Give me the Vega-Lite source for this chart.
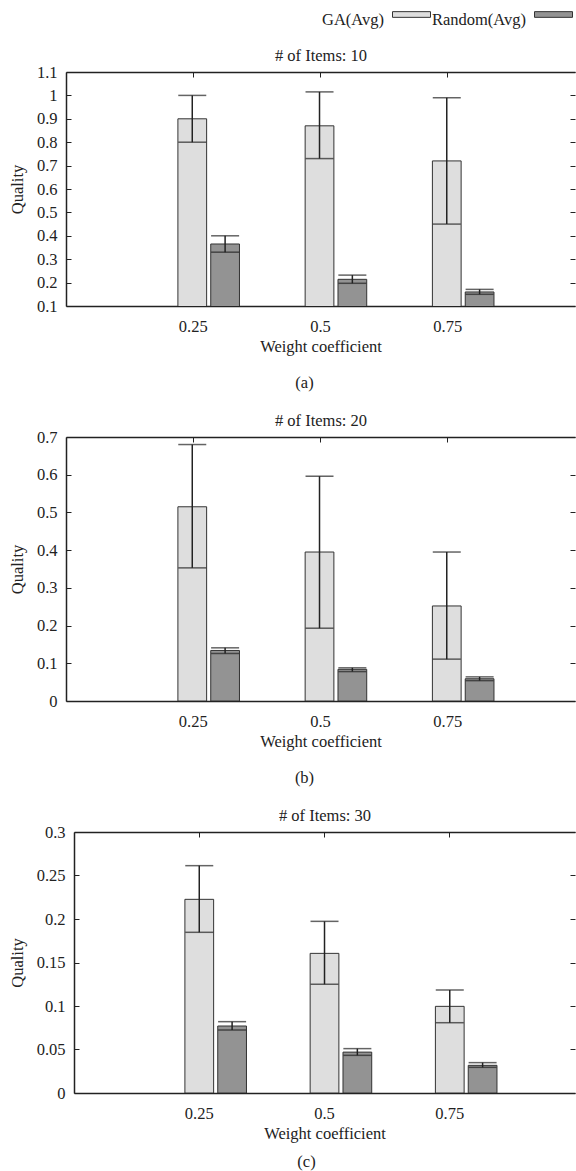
{
  "$schema": "https://vega.github.io/schema/vega-lite/v6.json",
  "padding": {"left": 9, "top": 0, "right": 0, "bottom": 0},
  "columns": 1,
  "align": "none",
  "spacing": 20,
  "datasets": {
    "p10": [
      {"weight": 0.25, "series": "GA(Avg)", "avg": 0.90, "lo": 0.80, "hi": 1.00},
      {"weight": 0.25, "series": "Random(Avg)", "avg": 0.365, "lo": 0.33, "hi": 0.40},
      {"weight": 0.5, "series": "GA(Avg)", "avg": 0.87, "lo": 0.73, "hi": 1.015},
      {"weight": 0.5, "series": "Random(Avg)", "avg": 0.214, "lo": 0.197, "hi": 0.232},
      {"weight": 0.75, "series": "GA(Avg)", "avg": 0.72, "lo": 0.45, "hi": 0.99},
      {"weight": 0.75, "series": "Random(Avg)", "avg": 0.16, "lo": 0.15, "hi": 0.171}
    ],
    "p20": [
      {"weight": 0.25, "series": "GA(Avg)", "avg": 0.515, "lo": 0.353, "hi": 0.68},
      {"weight": 0.25, "series": "Random(Avg)", "avg": 0.134, "lo": 0.126, "hi": 0.141},
      {"weight": 0.5, "series": "GA(Avg)", "avg": 0.395, "lo": 0.193, "hi": 0.596},
      {"weight": 0.5, "series": "Random(Avg)", "avg": 0.084, "lo": 0.078, "hi": 0.088},
      {"weight": 0.75, "series": "GA(Avg)", "avg": 0.252, "lo": 0.111, "hi": 0.395},
      {"weight": 0.75, "series": "Random(Avg)", "avg": 0.059, "lo": 0.054, "hi": 0.064}
    ],
    "p30": [
      {"weight": 0.25, "series": "GA(Avg)", "avg": 0.2226, "lo": 0.1847, "hi": 0.2613},
      {"weight": 0.25, "series": "Random(Avg)", "avg": 0.077, "lo": 0.0724, "hi": 0.082},
      {"weight": 0.5, "series": "GA(Avg)", "avg": 0.1605, "lo": 0.125, "hi": 0.1973},
      {"weight": 0.5, "series": "Random(Avg)", "avg": 0.047, "lo": 0.0433, "hi": 0.051},
      {"weight": 0.75, "series": "GA(Avg)", "avg": 0.0996, "lo": 0.0808, "hi": 0.1184},
      {"weight": 0.75, "series": "Random(Avg)", "avg": 0.0318, "lo": 0.0295, "hi": 0.0349}
    ]
  },
  "concat": [
    {
      "width": 509, "height": 234,
      "data": {"name": "p10"},
      "title": {"text": "(a)", "orient": "bottom", "dx": -16, "offset": 20},
      "layer": [
        {
          "mark": {"type": "bar", "stroke": "#333", "strokeWidth": 1, "clip": true},
          "encoding": {
            "x": {"field": "weight", "type": "ordinal", "scale": {"paddingInner": 0, "paddingOuter": 0.5}, "axis": {"orient": "bottom", "title": "Weight coefficient", "labelAngle": 0}},
            "xOffset": {"field": "series", "type": "nominal", "scale": {"paddingInner": 0.125, "paddingOuter": 1.0625, "align": 0.735}},
            "y": {"field": "avg", "type": "quantitative", "scale": {"domain": [0.1, 1.1], "nice": false, "zero": false}, "axis": {"orient": "left", "title": "Quality", "values": [0.1, 0.2, 0.3, 0.4, 0.5, 0.6, 0.7, 0.8, 0.9, 1, 1.1]}},
            "color": {"field": "series", "type": "nominal", "scale": {"domain": ["GA(Avg)", "Random(Avg)"], "range": ["#dedede", "#939393"]},
              "legend": {"orient": "none", "legendX": 326, "legendY": -71.3, "direction": "horizontal", "title": null, "symbolType": "M-1,-0.45H1V-0.15H-1Z", "symbolSize": 1444, "symbolStrokeColor": "#333", "symbolStrokeWidth": 1, "symbolOpacity": 1, "labelAlign": "right", "labelOffset": -47, "columnPadding": -2}}
          }
        },
        {
          "mark": {"type": "rule", "color": "#222", "strokeWidth": 1.5},
          "encoding": {
            "x": {"field": "weight", "type": "ordinal", "axis": {"orient": "top", "title": "# of Items: 10", "labels": false}},
            "xOffset": {"field": "series", "type": "nominal"},
            "y": {"field": "lo", "type": "quantitative", "axis": {"orient": "right", "title": null, "labels": false, "domain": false, "values": [0.1, 0.2, 0.3, 0.4, 0.5, 0.6, 0.7, 0.8, 0.9, 1, 1.1]}},
            "y2": {"field": "hi"}
          }
        },
        {
          "mark": {"type": "tick", "color": "#222", "thickness": 1.5, "size": 28},
          "encoding": {
            "x": {"field": "weight", "type": "ordinal", "axis": null},
            "xOffset": {"field": "series", "type": "nominal"},
            "y": {"field": "lo", "type": "quantitative", "axis": null}
          }
        },
        {
          "mark": {"type": "tick", "color": "#222", "thickness": 1.5, "size": 28},
          "encoding": {
            "x": {"field": "weight", "type": "ordinal", "axis": null},
            "xOffset": {"field": "series", "type": "nominal"},
            "y": {"field": "hi", "type": "quantitative", "axis": null}
          }
        }
      ]
    },
    {
      "width": 509, "height": 264,
      "data": {"name": "p20"},
      "title": {"text": "(b)", "orient": "bottom", "dx": -16, "offset": 20},
      "layer": [
        {
          "mark": {"type": "bar", "stroke": "#333", "strokeWidth": 1, "clip": true},
          "encoding": {
            "x": {"field": "weight", "type": "ordinal", "scale": {"paddingInner": 0, "paddingOuter": 0.5}, "axis": {"orient": "bottom", "title": "Weight coefficient", "labelAngle": 0}},
            "xOffset": {"field": "series", "type": "nominal", "scale": {"paddingInner": 0.125, "paddingOuter": 1.0625, "align": 0.735}},
            "y": {"field": "avg", "type": "quantitative", "scale": {"domain": [0, 0.7], "nice": false}, "axis": {"orient": "left", "title": "Quality", "values": [0, 0.1, 0.2, 0.3, 0.4, 0.5, 0.6, 0.7]}},
            "color": {"field": "series", "type": "nominal", "legend": null}
          }
        },
        {
          "mark": {"type": "rule", "color": "#222", "strokeWidth": 1.5},
          "encoding": {
            "x": {"field": "weight", "type": "ordinal", "axis": {"orient": "top", "title": "# of Items: 20", "labels": false}},
            "xOffset": {"field": "series", "type": "nominal"},
            "y": {"field": "lo", "type": "quantitative", "axis": {"orient": "right", "title": null, "labels": false, "domain": false, "values": [0, 0.1, 0.2, 0.3, 0.4, 0.5, 0.6, 0.7]}},
            "y2": {"field": "hi"}
          }
        },
        {
          "mark": {"type": "tick", "color": "#222", "thickness": 1.5, "size": 28},
          "encoding": {
            "x": {"field": "weight", "type": "ordinal", "axis": null},
            "xOffset": {"field": "series", "type": "nominal"},
            "y": {"field": "lo", "type": "quantitative", "axis": null}
          }
        },
        {
          "mark": {"type": "tick", "color": "#222", "thickness": 1.5, "size": 28},
          "encoding": {
            "x": {"field": "weight", "type": "ordinal", "axis": null},
            "xOffset": {"field": "series", "type": "nominal"},
            "y": {"field": "hi", "type": "quantitative", "axis": null}
          }
        }
      ]
    },
    {
      "width": 509, "height": 261,
      "data": {"name": "p30"},
      "title": {"text": "(c)", "orient": "bottom", "dx": -14, "offset": 12},
      "layer": [
        {
          "mark": {"type": "bar", "stroke": "#333", "strokeWidth": 1, "clip": true},
          "encoding": {
            "x": {"field": "weight", "type": "ordinal", "scale": {"paddingInner": 0, "paddingOuter": 0.5, "range": [8, 509]}, "axis": {"orient": "bottom", "title": "Weight coefficient", "labelAngle": 0}},
            "xOffset": {"field": "series", "type": "nominal", "scale": {"paddingInner": 0.125, "paddingOuter": 1.0625, "align": 0.735}},
            "y": {"field": "avg", "type": "quantitative", "scale": {"domain": [0, 0.3], "nice": false}, "axis": {"orient": "left", "title": "Quality", "offset": -8, "values": [0, 0.05, 0.1, 0.15, 0.2, 0.25, 0.3]}},
            "color": {"field": "series", "type": "nominal", "legend": null}
          }
        },
        {
          "mark": {"type": "rule", "color": "#222", "strokeWidth": 1.5},
          "encoding": {
            "x": {"field": "weight", "type": "ordinal", "axis": {"orient": "top", "title": "# of Items: 30", "labels": false}},
            "xOffset": {"field": "series", "type": "nominal"},
            "y": {"field": "lo", "type": "quantitative", "axis": {"orient": "right", "title": null, "labels": false, "domain": false, "values": [0, 0.05, 0.1, 0.15, 0.2, 0.25, 0.3]}},
            "y2": {"field": "hi"}
          }
        },
        {
          "mark": {"type": "tick", "color": "#222", "thickness": 1.5, "size": 28},
          "encoding": {
            "x": {"field": "weight", "type": "ordinal", "axis": null},
            "xOffset": {"field": "series", "type": "nominal"},
            "y": {"field": "lo", "type": "quantitative", "axis": null}
          }
        },
        {
          "mark": {"type": "tick", "color": "#222", "thickness": 1.5, "size": 28},
          "encoding": {
            "x": {"field": "weight", "type": "ordinal", "axis": null},
            "xOffset": {"field": "series", "type": "nominal"},
            "y": {"field": "hi", "type": "quantitative", "axis": null}
          }
        }
      ]
    }
  ],
  "config": {
    "font": "Liberation Serif",
    "view": {"stroke": null},
    "axis": {
      "labelFont": "Liberation Serif", "labelFontSize": 16.5, "labelColor": "#222",
      "titleFont": "Liberation Serif", "titleFontSize": 16.5, "titleFontWeight": "normal", "titleColor": "#222",
      "domainColor": "#222", "domainWidth": 1.5, "tickColor": "#222", "tickWidth": 1, "tickSize": -5,
      "grid": false, "format": "~g"
    },
    "axisLeft": {"labelPadding": 14, "titlePadding": 11},
    "axisBottom": {"labelPadding": 17, "titlePadding": 4},
    "axisTop": {"titlePadding": 8},
    "legend": {"labelFont": "Liberation Serif", "labelFontSize": 16.5, "labelColor": "#222"},
    "title": {"font": "Liberation Serif", "fontSize": 16.5, "fontWeight": "normal", "color": "#222"}
  }
}
